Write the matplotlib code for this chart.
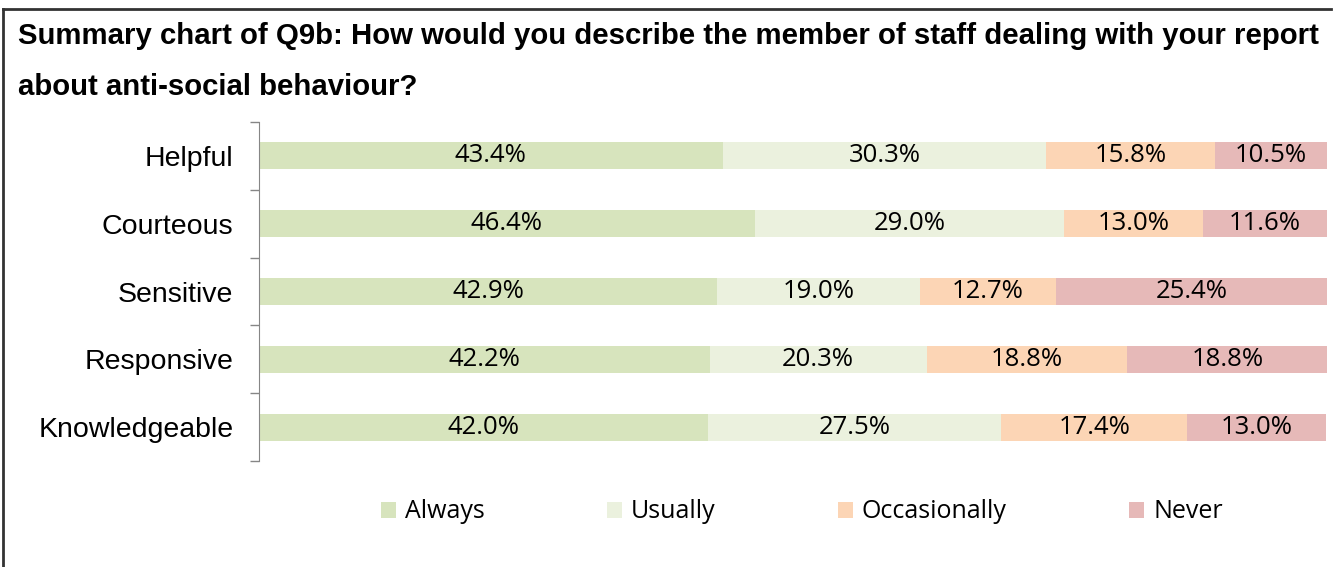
import matplotlib.pyplot as plt
from matplotlib.lines import Line2D
import numpy as np

# data
categories = ['Helpful', 'Courteous', 'Sensitive', 'Responsive', 'Knowledgeable']
series = ['Always', 'Usually', 'Occasionally', 'Never']
always = [43.4, 46.4, 42.9, 42.2, 42.0]
usually = [30.3, 29.0, 19.0, 20.3, 27.5]
occasionally = [15.8, 13.0, 12.7, 18.8, 17.4]
never = [10.5, 11.6, 25.4, 18.8, 13.0]
colors = ['#D7E4BD', '#EBF1DE', '#FCD5B5', '#E6B9B8']

values = [always, usually, occasionally, never]

fig = plt.figure(figsize=(13.34, 5.67), dpi=100)
ax = fig.add_axes([259 / 1334, 1 - 461 / 567, 1068 / 1334, 339 / 567])

y = np.arange(len(categories))
left = np.zeros(len(categories))
for name, vals, c in zip(series, values, colors):
    vals = np.array(vals)
    ax.barh(y, vals, left=left, height=0.4, color=c, label=name)
    for yi, l, v in zip(y, left, vals):
        ax.text(l + v / 2, yi, f'{v:.1f}%', ha='center', va='center',
                fontsize=18.5, family='Open Sans', color='black')
    left += vals

ax.set_xlim(0, 100)
ax.set_ylim(len(categories) - 0.5, -0.5)
ax.set_yticks(y)
ax.set_yticklabels(categories, fontsize=20.5, family='Liberation Sans')
ax.set_yticks(np.arange(len(categories) + 1) - 0.5, minor=True)
ax.tick_params(axis='y', which='major', length=0, pad=18.5)
ax.tick_params(axis='y', which='minor', length=6.5, color='#868686', width=1)
ax.xaxis.set_visible(False)
for s in ['top', 'right', 'bottom']:
    ax.spines[s].set_visible(False)
ax.spines['left'].set_color('#868686')

# title
fig.text(18 / 1334, 1 - 22 / 567,
         'Summary chart of Q9b: How would you describe the member of staff dealing with your report\n'
         'about anti-social behaviour?',
         ha='left', va='top', fontsize=21.2, fontweight='bold', family='Liberation Sans',
         linespacing=2.05)

# legend
leg = fig.legend(loc='center', bbox_to_anchor=(802 / 1334, 1 - 512 / 567), ncol=4,
                 frameon=False, prop={'family': 'Open Sans', 'size': 18},
                 handlelength=0.6, handleheight=0.6, handletextpad=0.35,
                 columnspacing=4.9)

# outer border (top and left)
fig.add_artist(Line2D([3 / 1334, 1331 / 1334], [1 - 9 / 567, 1 - 9 / 567],
                      transform=fig.transFigure, color='#333333', lw=2))
fig.add_artist(Line2D([3 / 1334, 3 / 1334], [0, 1 - 9 / 567],
                      transform=fig.transFigure, color='#333333', lw=2))

fig.savefig('out.png', dpi=100)
